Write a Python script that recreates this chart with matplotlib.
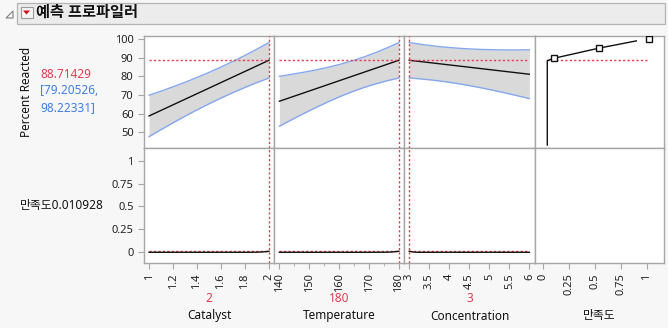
import matplotlib.pyplot as plt
from matplotlib.patches import Rectangle, Polygon

plt.rcParams['font.family'] = ['Noto Sans', 'Noto Sans CJK KR', 'DejaVu Sans']

# Profile traces for Percent Reacted (prediction and confidence limits)
catalyst = [1.0, 1.1, 1.2, 1.3, 1.4, 1.5, 1.6, 1.7, 1.8, 1.9, 2.0]
cat_pred = [58.80, 61.79, 64.78, 67.77, 70.76, 73.75, 76.74, 79.73, 82.72, 85.71, 88.71]
cat_upper = [69.90, 72.13, 74.46, 76.89, 79.46, 82.17, 85.05, 88.10, 91.32, 94.69, 98.22]
cat_lower = [47.70, 51.45, 55.10, 58.65, 62.06, 65.33, 68.43, 71.36, 74.12, 76.73, 79.21]

temperature = [140, 144, 148, 152, 156, 160, 164, 168, 172, 176, 180]
temp_pred = [66.70, 68.90, 71.10, 73.30, 75.50, 77.71, 79.91, 82.11, 84.31, 86.51, 88.71]
temp_upper = [80.10, 81.12, 82.22, 83.44, 84.82, 86.40, 88.21, 90.30, 92.68, 95.33, 98.22]
temp_lower = [53.30, 56.68, 59.98, 63.16, 66.18, 69.02, 71.61, 73.92, 75.94, 77.69, 79.21]

concentration = [3.0, 3.3, 3.6, 3.9, 4.2, 4.5, 4.8, 5.1, 5.4, 5.7, 6.0]
conc_pred = [88.71, 87.96, 87.21, 86.46, 85.71, 84.96, 84.20, 83.45, 82.70, 81.95, 81.20]
conc_upper = [98.22, 97.24, 96.41, 95.73, 95.20, 94.80, 94.51, 94.34, 94.25, 94.25, 94.30]
conc_lower = [79.21, 78.68, 78.01, 77.19, 76.22, 75.12, 73.89, 72.56, 71.15, 69.65, 68.10]

# Desirability traces
cat_des_x = [1.0, 1.2, 1.4, 1.6, 1.8, 1.9, 1.95, 2.0]
cat_des = [0.0, 0.0, 0.0, 0.0, 0.0, 0.001, 0.004, 0.0109]
temp_des_x = [140, 150, 160, 170, 176, 178, 180]
temp_des = [0.0, 0.0, 0.0, 0.0, 0.001, 0.004, 0.0109]
conc_des_x = [3.0, 3.05, 3.1, 3.2, 3.5, 4.0, 4.5, 5.0, 5.5, 6.0]
conc_des = [0.0109, 0.007, 0.003, 0.0, 0.0, 0.0, 0.0, 0.0, 0.0, 0.0]

# Desirability function for the response
dfun_d = [0.044, 0.044, 0.11, 0.54, 0.90]
dfun_y = [43.2, 88.5, 89.8, 95.2, 99.1]
dfun_pts_d = [0.11, 0.54, 1.02]
dfun_pts_y = [89.8, 95.2, 100.0]

current = {'Catalyst': 2, 'Temperature': 180, 'Concentration': 3}
pred_value = 88.71429
ci_low, ci_high = 79.20526, 98.22331
desirability = 0.010928

RED = '#e23c50'
BLUE = '#3f7ee6'
EDGE = '#86a8ee'
BAND = '#d9d9d9'
GRID = '#a6a6a6'
DOT = (0, (1.6, 1.6))

W, H = 668, 328
fig = plt.figure(figsize=(W / 100, H / 100), dpi=100, facecolor='#f7f7f7')

# overlay in pixel units for header and labels
ov = fig.add_axes([0, 0, 1, 1], zorder=-1)
ov.set_xlim(0, W)
ov.set_ylim(H, 0)
ov.axis('off')
ov.add_patch(Rectangle((16.5, 2.5), 648, 21.5, facecolor='#ececec', edgecolor='#b4b4b4', lw=0.9))
ov.add_patch(Polygon([[6, 18], [13, 11], [13, 18]], closed=True, facecolor='none', edgecolor='#808080', lw=0.8))
ov.add_patch(Rectangle((20.5, 6.5), 12, 11, facecolor='#f4f4f4', edgecolor='#9a9a9a', lw=0.8))
ov.add_patch(Polygon([[23, 10.5], [30, 10.5], [26.5, 14.5]], closed=True, facecolor='#d01020', edgecolor='none'))
ov.text(36, 13.5, '예측 프로파일러', fontsize=11, fontweight='bold', va='center', ha='left', color='#111111')


def box(x0, y0, x1, y1):
    return [x0 / W, 1 - y1 / H, (x1 - x0) / W, (y1 - y0) / H]


cols = [144, 274, 404, 535, 664]
top, mid, bot = 35.5, 148, 263

factors = [
    ('Catalyst', catalyst, cat_pred, cat_upper, cat_lower, cat_des_x, cat_des,
     (0.958, 2.042), [1, 1.2, 1.4, 1.6, 1.8, 2], None),
    ('Temperature', temperature, temp_pred, temp_upper, temp_lower, temp_des_x, temp_des,
     (138.2, 181.7), [140, 150, 160, 170, 180], [145, 155, 165, 175]),
    ('Concentration', concentration, conc_pred, conc_upper, conc_lower, conc_des_x, conc_des,
     (2.87, 6.14), [3, 3.5, 4, 4.5, 5, 5.5, 6], None),
]

ylim_top = (41.6, 102.0)
ylim_bot = (-0.117, 1.138)


def style(ax):
    for s in ax.spines.values():
        s.set_color(GRID)
        s.set_linewidth(1.0)
    ax.tick_params(colors=GRID, labelcolor='#222222', labelsize=8, length=4, width=0.8)


for i, (name, x, pred, up, lo, dx, dv, xl, ticks, minor) in enumerate(factors):
    cur = current[name]
    at = fig.add_axes(box(cols[i], top, cols[i + 1], mid))
    ab = fig.add_axes(box(cols[i], mid, cols[i + 1], bot))
    for ax in (at, ab):
        style(ax)
        ax.set_xlim(*xl)
        ax.set_xticks(ticks)
        if minor:
            ax.set_xticks(minor, minor=True)
            ax.tick_params(which='minor', length=2.5, colors=GRID)
        ax.axvline(cur, color=RED, lw=1.0, ls=DOT, zorder=4)
    at.set_ylim(*ylim_top)
    ab.set_ylim(*ylim_bot)
    at.set_yticks([50, 60, 70, 80, 90, 100])
    ab.set_yticks([0, 0.25, 0.5, 0.75, 1])
    ab.set_yticklabels(['0', '0.25', '0.5', '0.75', '1'])
    at.tick_params(axis='x', bottom=False, labelbottom=False)
    if i > 0:
        at.tick_params(axis='y', left=False, labelleft=False)
        ab.tick_params(axis='y', left=False, labelleft=False)
    ab.set_xticklabels([f'{t:g}' for t in ticks], rotation=90)

    at.fill_between(x, lo, up, color=BAND, lw=0, zorder=1)
    at.plot(x, up, color=EDGE, lw=1.0, zorder=2)
    at.plot(x, lo, color=EDGE, lw=1.0, zorder=2)
    at.plot(x, pred, color='#111111', lw=1.0, zorder=3)
    at.hlines(pred_value, min(x), max(x), color=RED, lw=1.0, linestyles=DOT, zorder=4)

    ab.hlines(desirability, min(x), max(x), color=RED, lw=1.0, linestyles=DOT, zorder=2)
    ab.plot(dx, dv, color='#111111', lw=1.0, zorder=3)

    cx = (cols[i] + cols[i + 1]) / 2
    ov.text(cx, 298, f'{cur:g}', color=RED, fontsize=8.5, ha='center', va='center')
    ov.text(cx, 316, name, color='#111111', fontsize=8.5, ha='center', va='center')

# desirability function column
dt = fig.add_axes(box(cols[3], top, cols[4], mid))
db = fig.add_axes(box(cols[3], mid, cols[4], bot))
for ax in (dt, db):
    style(ax)
    ax.set_xlim(-0.074, 1.166)
    ax.tick_params(axis='y', left=False, labelleft=False)
dt.set_ylim(*ylim_top)
db.set_ylim(*ylim_bot)
dt.tick_params(axis='x', bottom=False, labelbottom=False)
db.set_xticks([0, 0.25, 0.5, 0.75, 1])
db.set_xticklabels(['0', '0.25', '0.5', '0.75', '1'], rotation=90)
dt.plot(dfun_d, dfun_y, color='#111111', lw=1.0, zorder=3)
dt.plot(dfun_pts_d, dfun_pts_y, ls='none', marker='s', ms=4, mfc='white', mec='#111111', mew=1.0, zorder=4)
dt.hlines(pred_value, dfun_d[0], dfun_pts_d[-1], color=RED, lw=1.0, linestyles=DOT, zorder=2)
ov.text((cols[3] + cols[4]) / 2, 316, '만족도', color='#111111', fontsize=8.5, ha='center', va='center')

# response readout on the left
ov.text(27, 92, 'Percent Reacted', rotation=90, fontsize=8.5, ha='center', va='center', color='#111111')
ov.text(40, 74, f'{pred_value:.5f}', color=RED, fontsize=8.5, ha='left', va='center')
ov.text(40, 91, f'[{ci_low:.5f},', color=BLUE, fontsize=8.5, ha='left', va='center')
ov.text(40, 108, f'{ci_high:.5f}]', color=BLUE, fontsize=8.5, ha='left', va='center')
ov.text(20, 205, f'만족도{desirability:.6f}', color='#111111', fontsize=8.5, ha='left', va='center')

fig.savefig('out.png', dpi=100, facecolor=fig.get_facecolor())
